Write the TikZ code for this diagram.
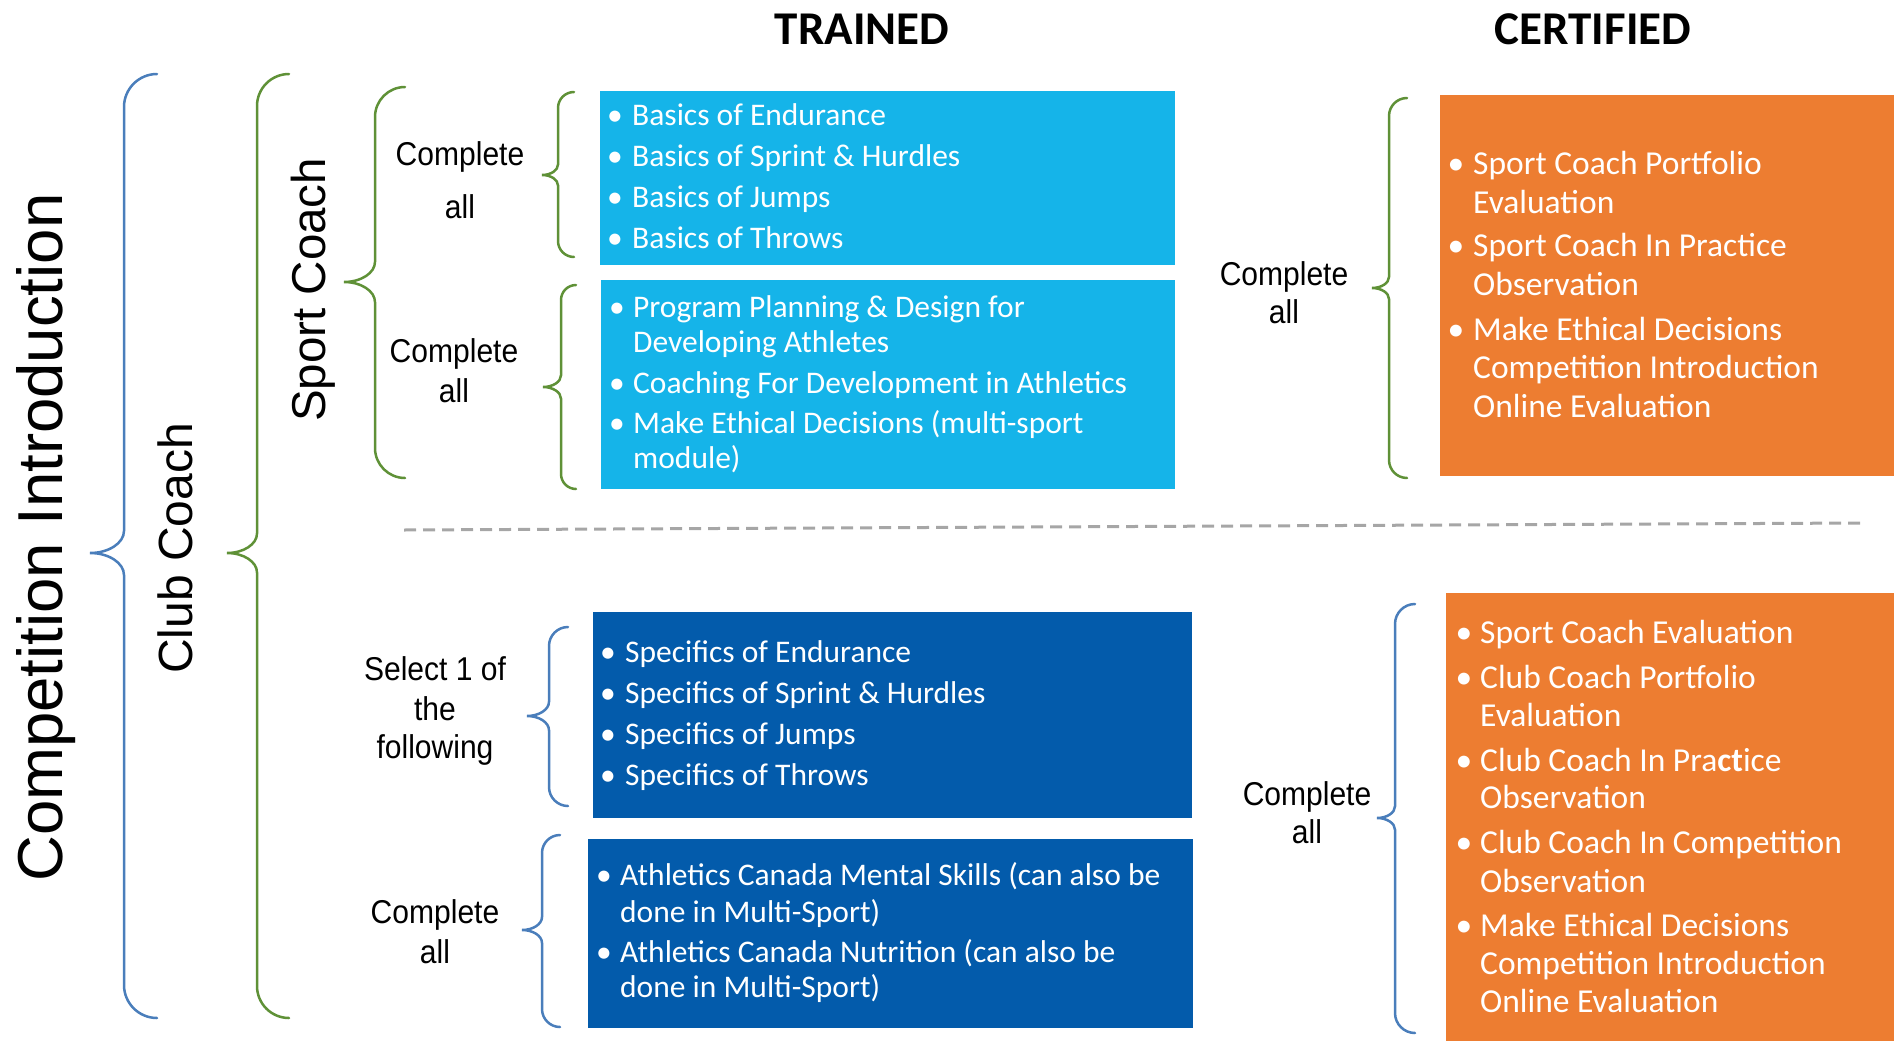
\documentclass[tikz,border=0pt]{standalone}
\usepackage{fontspec}
\setmainfont{Carlito}
\newfontfamily\calfont{Carlito}
\newfontfamily\labfont[FakeStretch=0.91]{Liberation Sans}
\newfontfamily\sidefont{Liberation Sans}
\definecolor{lblue}{RGB}{21,180,233}
\definecolor{dblue}{RGB}{3,91,171}
\definecolor{orng}{RGB}{237,125,49}
\definecolor{bracegreen}{RGB}{95,145,55}
\definecolor{braceblue}{RGB}{74,126,187}
\definecolor{dashgray}{RGB}{166,166,166}
\newcommand\cbrace[7]{% color, xend, xv, xtip, ytop, ymid, ybot
  \pgfmathsetmacro\brR{#2-#3}%
  \pgfmathsetmacro\brS{0.65*(#3-#4)}%
  \draw[bracestyle,#1] (#2,#5)
    .. controls ({#2-0.552*\brR},#5) and (#3,{#5+0.448*\brR}) .. (#3,{#5+\brR})
    -- (#3,{#6-\brS})
    .. controls (#3,{#6-0.448*\brS}) and ({#4+0.552*(#3-#4)},#6) .. (#4,#6)
    .. controls ({#4+0.552*(#3-#4)},#6) and (#3,{#6+0.448*\brS}) .. (#3,{#6+\brS})
    -- (#3,{#7-\brR})
    .. controls (#3,{#7-0.448*\brR}) and ({#2-0.552*\brR},#7) .. (#2,#7);
}
\tikzset{
  bracestyle/.style={line width=2.5pt, line cap=round},
  boxshape/.style={inner sep=0pt, anchor=north west, draw=none},
  btxt/.style={font=\calfont\fontsize{31.5}{31.5}\selectfont, text=white, inner sep=0pt, anchor=base west},
  otxt/.style={font=\calfont\fontsize{33.5}{33.5}\selectfont, text=white, inner sep=0pt, anchor=base west},
  bdot/.style={font=\calfont\fontsize{31.5}{31.5}\selectfont, text=white, inner sep=0pt, anchor=base},
  odot/.style={font=\calfont\fontsize{33.5}{33.5}\selectfont, text=white, inner sep=0pt, anchor=base},
  lab/.style={font=\labfont\fontsize{33}{33}\selectfont, inner sep=0pt, anchor=base},
  ttl/.style={font=\calfont\bfseries\fontsize{47}{47}\selectfont, inner sep=0pt, anchor=base},
  side/.style={font=\sidefont, inner sep=0pt, anchor=base west, rotate=90}
}
\begin{document}
\begin{tikzpicture}[x=1pt,y=-1pt]
\useasboundingbox (0,0) rectangle (1894,1041);
% titles
\node[ttl] (trained) at (862,45) {TRAINED};
\node[ttl] (certified) at (1593,45) {CERTIFIED};
% side labels
\node[side, font=\sidefont\fontsize{63.5}{63.5}\selectfont] (compintro) at (62,882) {Competition Introduction};
\node[side, font=\sidefont\fontsize{48}{48}\selectfont] (clubcoach) at (192,674) {Club Coach};
\node[side, font=\sidefont\fontsize{47.5}{47.5}\selectfont] (sportcoach) at (325,422) {Sport Coach};
% big braces
\cbrace{braceblue}{157}{124}{90}{74}{553}{1018}
\cbrace{bracegreen}{289}{257}{227}{74}{553}{1018}
\cbrace{bracegreen}{405}{375}{344}{87}{282}{478}
% small braces
\cbrace{bracegreen}{574}{558}{542}{92}{175}{257}
\cbrace{bracegreen}{576}{561}{543}{285}{387}{489}
\cbrace{braceblue}{568}{549}{527}{627}{716}{806}
\cbrace{braceblue}{560}{542}{522}{835}{930}{1027}
\cbrace{bracegreen}{1407}{1389}{1372}{98}{288}{478}
\cbrace{braceblue}{1415}{1395}{1377}{604}{818}{1033}
% dashed separator
\coordinate (dashL) at (404,530);
\coordinate (dashR) at (1863,523);
\draw[dashgray, line width=3pt, dash pattern=on 12pt off 7pt] (dashL) -- (dashR);
% boxes
\node[boxshape, fill=lblue, minimum width=575pt, minimum height=174pt] (boxA) at (600,91) {};
\node[boxshape, fill=lblue, minimum width=574pt, minimum height=209pt] (boxB) at (601,280) {};
\node[boxshape, fill=dblue, minimum width=599pt, minimum height=206pt] (boxC) at (593,612) {};
\node[boxshape, fill=dblue, minimum width=605pt, minimum height=189pt] (boxD) at (588,839) {};
\node[boxshape, fill=orng, minimum width=454pt, minimum height=381pt] (boxE) at (1440,95) {};
\node[boxshape, fill=orng, minimum width=448pt, minimum height=448pt] (boxF) at (1446,593) {};
% labels
\node[lab] (la1) at (460,165) {Complete};
\node[lab] (la2) at (460,218) {all};
\node[lab] (lb1) at (454,362) {Complete};
\node[lab] (lb2) at (454,402) {all};
\node[lab] (lc1) at (435,680) {Select 1 of};
\node[lab] (lc2) at (435,720) {the};
\node[lab] (lc3) at (435,758) {following};
\node[lab] (ld1) at (435,923) {Complete};
\node[lab] (ld2) at (435,963) {all};
\node[lab] (le1) at (1284,285) {Complete};
\node[lab] (le2) at (1284,323) {all};
\node[lab] (lf1) at (1307,805) {Complete};
\node[lab] (lf2) at (1307,843) {all};
% box A
\foreach \yy/\tt [count=\i] in {125/{Basics of Endurance},166/{Basics of Sprint \& Hurdles},207/{Basics of Jumps},248/{Basics of Throws}}{
  \node[bdot] (adot\i) at (615,\yy) {•};
  \node[btxt] (atx\i) at (632,\yy) {\tt};
}
% box B
\foreach \yy [count=\i] in {317,393,433}{\node[bdot] (bdot\i) at (617,\yy) {•};}
\foreach \yy/\tt [count=\i] in {317/{Program Planning \& Design for},352/{Developing Athletes},393/{Coaching For Development in Athletics},433/{Make Ethical Decisions (multi-sport},468/{module)}}{
  \node[btxt] (btx\i) at (633,\yy) {\tt};
}
% box C
\foreach \yy/\tt [count=\i] in {662/{Specifics of Endurance},703/{Specifics of Sprint \& Hurdles},744/{Specifics of Jumps},785/{Specifics of Throws}}{
  \node[bdot] (cdot\i) at (608,\yy) {•};
  \node[btxt] (ctx\i) at (625,\yy) {\tt};
}
% box D
\foreach \yy [count=\i] in {885,962}{\node[bdot] (ddot\i) at (604,\yy) {•};}
\foreach \yy/\tt [count=\i] in {885/{Athletics Canada Mental Skills (can also be},922/{done in Multi-Sport)},962/{Athletics Canada Nutrition (can also be},997/{done in Multi-Sport)}}{
  \node[btxt] (dtx\i) at (620,\yy) {\tt};
}
% box E
\foreach \yy [count=\i] in {174,256,340}{\node[odot] (edot\i) at (1456,\yy) {•};}
\foreach \yy/\tt [count=\i] in {174/{Sport Coach Portfolio},213/{Evaluation},256/{Sport Coach In Practice},295/{Observation},340/{Make Ethical Decisions},378/{Competition Introduction},417/{Online Evaluation}}{
  \node[otxt] (etx\i) at (1473,\yy) {\tt};
}
% box F
\foreach \yy [count=\i] in {643,688,771,853,936}{\node[odot] (fdot\i) at (1464,\yy) {•};}
\foreach \yy/\tt [count=\i] in {643/{Sport Coach Evaluation},688/{Club Coach Portfolio},726/{Evaluation},771/{Club Coach In Pra\textbf{ct}ice},808/{Observation},853/{Club Coach In Competition},892/{Observation},936/{Make Ethical Decisions},974/{Competition Introduction},1012/{Online Evaluation}}{
  \node[otxt] (ftx\i) at (1480,\yy) {\tt};
}
\end{tikzpicture}
\end{document}
